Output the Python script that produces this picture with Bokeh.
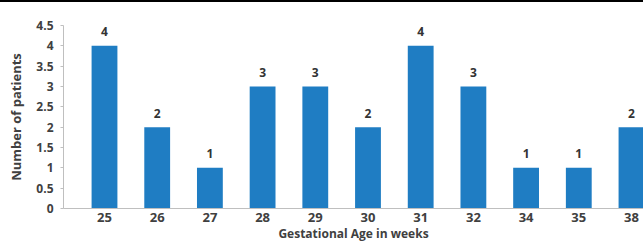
from bokeh.plotting import figure
from bokeh.models import ColumnDataSource, Range1d, FixedTicker, NumeralTickFormatter
from bokeh.embed import file_html
from bokeh.resources import INLINE

# Data
weeks = ["25", "26", "27", "28", "29", "30", "31", "32", "34", "35", "38"]
patients = [4, 2, 1, 3, 3, 2, 4, 3, 1, 1, 2]
y_ticks = [0, 0.5, 1, 1.5, 2, 2.5, 3, 3.5, 4, 4.5]

xs = list(range(len(weeks)))
src = ColumnDataSource(dict(x=xs, y=patients, lab=[str(v) for v in patients]))

FONT = "Open Sans"
TXT = "#404040"
BLUE = "#1f7dc3"
AX = "#bfbfbf"

p = figure(width=643, height=242, output_backend="svg", toolbar_location=None,
           x_range=Range1d(-0.778, 10.228), y_range=Range1d(0, 4.5),
           min_border_left=63, min_border_right=0, min_border_top=23, min_border_bottom=35)
p.styles = {"border-top": "2px solid black"}
p.outline_line_color = None
p.xgrid.visible = False
p.ygrid.visible = False

p.vbar(x="x", top="y", width=0.49, bottom=0, source=src, fill_color=BLUE, line_color=None)
p.text(x="x", y="y", text="lab", source=src, text_align="center", text_baseline="alphabetic",
       y_offset=-14, text_font_size="12px", text_font_style="bold", text_color="#333333",
       text_font={"value": FONT})

# x axis
xa = p.xaxis[0]
xa.ticker = FixedTicker(ticks=xs)
xa.major_label_overrides = {i: w for i, w in zip(xs, weeks)}
xa.major_tick_out = 0
xa.major_tick_in = 0
xa.minor_tick_line_color = None
xa.axis_line_color = AX
xa.major_label_standoff = 4
xa.major_label_text_font = FONT
xa.major_label_text_font_size = "13px"
xa.major_label_text_font_style = "bold"
xa.major_label_text_color = TXT
xa.axis_label = "Gestational Age in weeks"
xa.axis_label_standoff = 0
xa.axis_label_text_font = FONT
xa.axis_label_text_font_size = "12px"
xa.axis_label_text_font_style = "bold"
xa.axis_label_text_color = TXT

# y axis
ya = p.yaxis[0]
ya.ticker = FixedTicker(ticks=y_ticks)
ya.formatter = NumeralTickFormatter(format="0.[0]")
ya.major_tick_out = 3
ya.major_tick_in = 0
ya.major_tick_line_color = AX
ya.minor_tick_line_color = None
ya.axis_line_color = AX
ya.major_label_standoff = 7
ya.major_label_text_font = FONT
ya.major_label_text_font_size = "12px"
ya.major_label_text_font_style = "bold"
ya.major_label_text_color = TXT
ya.axis_label = "Number of patients"
ya.axis_label_text_font = FONT
ya.axis_label_text_font_size = "13px"
ya.axis_label_text_font_style = "bold"
ya.axis_label_text_color = TXT
ya.axis_label_standoff = 8

open("out.html", "w").write(file_html(p, INLINE))
